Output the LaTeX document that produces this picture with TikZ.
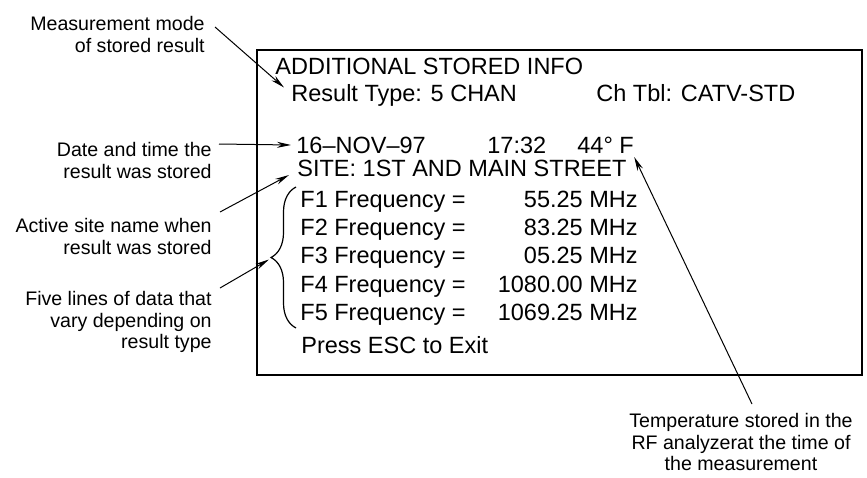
\documentclass[tikz,border=0pt]{standalone}
\usepackage{fontspec}
\setmainfont{Liberation Sans}
\usetikzlibrary{positioning, arrows.meta, calc, decorations.pathreplacing}
\tikzset{
  scr/.style={anchor=base west, inner sep=0pt, font=\fontsize{11.75}{14}\selectfont},
  val/.style={scr, anchor=base east},
  note/.style={inner sep=0pt, align=right, font=\fontsize{9.8}{10.75}\selectfont},
  callout/.style={-{Stealth[length=7pt, width=3pt]}, line width=0.5pt},
  screen/.style={draw, line width=0.7pt},
  curly/.style={decorate, decoration={brace, amplitude=12.5pt}, line width=0.6pt}
}

\begin{document}
\begin{tikzpicture}[x=0.5pt, y=-0.5pt]
  \useasboundingbox (0,0) rectangle (867,477);
  \draw[screen] (257,50) rectangle (862,375);

  % screen contents
  \node[scr] (title) at (275,74) {ADDITIONAL STORED INFO};
  \node[scr] (rtype) at (291,101.5) {Result Type: 5 CHAN};
  \node[scr] (chtbl) at (596,101.5) {Ch Tbl: CATV-STD};
  \node[scr] (date) at (296,153) {16–NOV–97};
  \node[scr] (time) at (487,153) {17:32};
  \node[scr] (temp) at (577,153) {44° F};
  \node[scr] (site) at (297,176) {SITE: 1ST AND MAIN STREET};
  \foreach \i/\y/\freq in {1/207.5/55.25, 2/235.5/83.25, 3/263.5/05.25, 4/292/1080.00, 5/320/1069.25} {
    \node[scr] (f\i) at (300,\y) {F\i\ Frequency =};
    \node[val] (mhz\i) at (638,\y) {\freq\ MHz};
  }
  \node[scr] (esc) at (301,353) {Press ESC to Exit};
  \draw[curly] (296,328) -- (296,187);
  \coordinate (bracetip) at (271,257.5);

  % callouts
  \node[note, anchor=north east] (modenote) at (205,16) {Measurement mode\\of stored result};
  \node[note, anchor=north east] (datenote) at (212,142) {Date and time the\\result was stored};
  \node[note, anchor=north east] (sitenote) at (212,218) {Active site name when\\result was stored};
  \node[note, anchor=north east] (datanote) at (212,291) {Five lines of data that\\vary depending on\\result type};
  \node[note, align=center, anchor=north] (tempnote) at (741,413) {Temperature stored in the\\RF analyzerat the time of\\the measurement};

  \draw[callout] ($(modenote.north east)+(10,11)$) -- ($(rtype.base west)+(-7,-14)$);
  \draw[callout] ($(datenote.north east)+(7,2)$) -- ($(date.base west)+(-5,-8)$);
  \draw[callout] ($(sitenote.north east)+(8,-6)$) -- ($(site.base west)+(-8,-1)$);
  \draw[callout] ($(datanote.north east)+(8,-3)$) -- ($(bracetip)+(-2,2)$);
  \draw[callout] ($(tempnote.north)+(11,-9)$) -- ($(temp.base east)+(0,4)$);
\end{tikzpicture}
\end{document}
